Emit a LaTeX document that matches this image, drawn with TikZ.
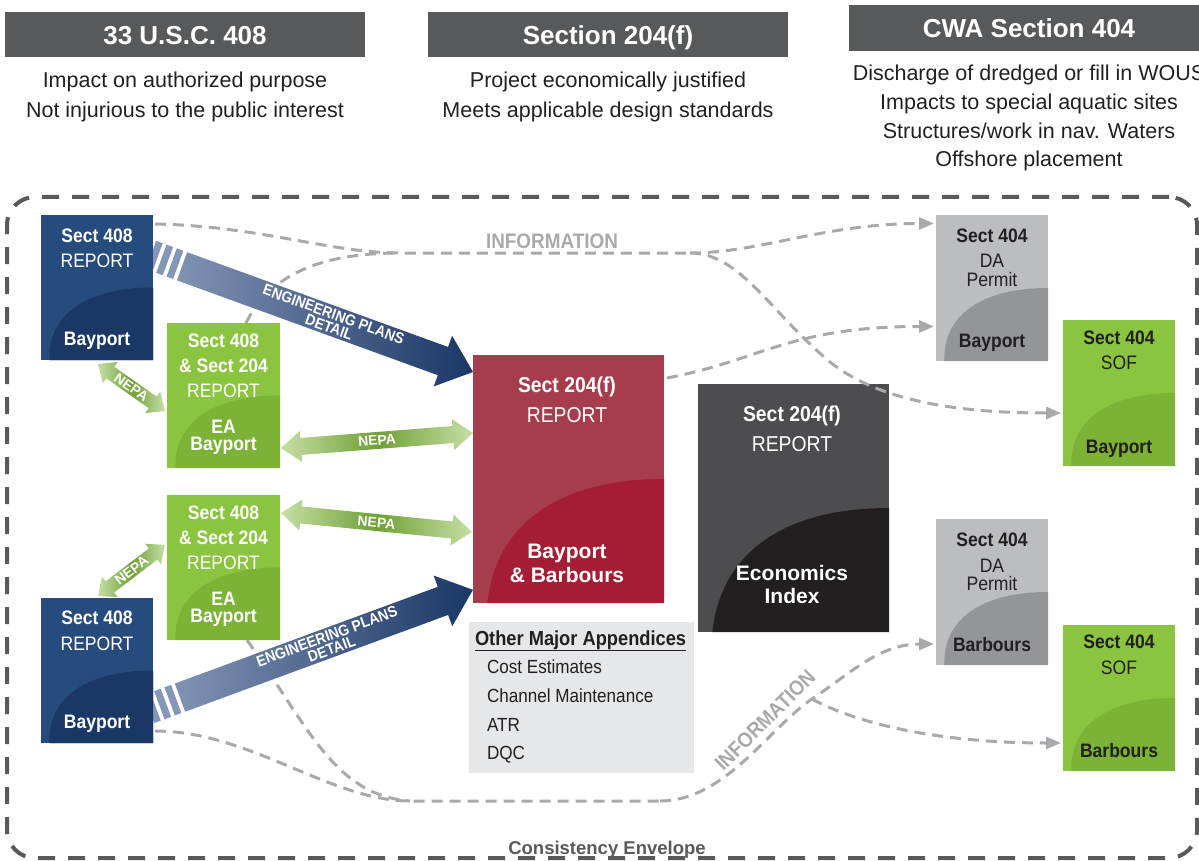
\documentclass[tikz,border=0pt]{standalone}
\usepackage{fontspec}
\setmainfont{Liberation Sans}
\newfontfamily\cond[FakeStretch=0.9]{Liberation Sans}
\usetikzlibrary{arrows.meta,calc}
\definecolor{hdr}{HTML}{58595B}
\definecolor{blueA}{HTML}{264B7D}
\definecolor{blueB}{HTML}{1B3765}
\definecolor{grnA}{HTML}{8BC43F}
\definecolor{grnB}{HTML}{7CB236}
\definecolor{redA}{HTML}{A53D4C}
\definecolor{redB}{HTML}{A41D35}
\definecolor{drkA}{HTML}{4D4D4F}
\definecolor{drkB}{HTML}{231F20}
\definecolor{gryA}{HTML}{BCBDC0}
\definecolor{gryB}{HTML}{939598}
\definecolor{appx}{HTML}{E6E7E8}
\definecolor{infoc}{HTML}{A7A9AC}
\definecolor{ink}{HTML}{231F20}
\definecolor{engS}{HTML}{8497B6}
\definecolor{engL}{HTML}{8093B3}
\definecolor{engD}{HTML}{1B3766}
\definecolor{nepL}{HTML}{C6DEA5}
\definecolor{nepD}{HTML}{6FA136}
\definecolor{envc}{HTML}{58595B}

% name, x0, y0, W, H, top colour, curve colour, c1x factor, c2x factor
\newcommand\repbox[9]{%
  \node[rbx, fill=#6, minimum width=#4, minimum height=#5, anchor=north west] (#1) at (#2,#3) {};
  \fill[#7] ({#2+0.075*#4},{#3+#5}) .. controls ({#2+#8*#4},{#3+0.68*#5}) and ({#2+#9*#4},{#3+0.5*#5}) .. ({#2+#4},{#3+0.5*#5}) -- ({#2+#4},{#3+#5}) -- cycle;
}
\newcommand\engarrow[4]{%
  \begin{scope}[shift={(#1)}, rotate=#2]
    \fill[engS] (0,-15) rectangle (7,15);
    \fill[engS] (11,-15) rectangle (18,15);
    \fill[engS] (22,-15) rectangle (29,15);
    \shade[left color=engL, right color=engD] (33,-15) -- ({#3-32},-15) -- ({#3-32},-27) -- (#3,0) -- ({#3-32},27) -- ({#3-32},15) -- (33,15) -- cycle;
    \node[engtxt, transform shape] (#4) at (192,0) {ENGINEERING PLANS\\DETAIL};
  \end{scope}}
\newcommand\nepa[7]{%
  \begin{scope}[shift={(#2)}, rotate=#3]
    \shade[left color=nepL, right color=nepL, middle color=nepD] (0,0) -- (#7,-#6) -- (#7,-#5) -- ({#4-#7},-#5) -- ({#4-#7},-#6) -- (#4,0) -- ({#4-#7},#6) -- ({#4-#7},#5) -- (#7,#5) -- (#7,#6) -- cycle;
    \node[nepatxt, transform shape] (#1) at ({#4/2},0) {NEPA};
  \end{scope}}

\begin{document}
\begin{tikzpicture}[x=1pt,y=-1pt,
  rbx/.style={rectangle, inner sep=0pt, outer sep=0pt, draw=none},
  lab/.style={inner sep=0pt, outer sep=0pt, anchor=base},
  sB/.style={lab, font=\cond\bfseries\fontsize{19.5}{22}\selectfont},
  sR/.style={lab, font=\cond\fontsize{19.5}{22}\selectfont},
  lB/.style={lab, font=\cond\bfseries\fontsize{21.5}{26}\selectfont},
  lR/.style={lab, font=\cond\fontsize{21.5}{26}\selectfont},
  xB/.style={lab, font=\bfseries\fontsize{21}{24}\selectfont},
  hdrbox/.style={rbx, fill=hdr, anchor=north west},
  htxt/.style={lab, text=white, font=\bfseries\fontsize{26}{30}\selectfont},
  stxt/.style={lab, text=ink, font=\fontsize{21.5}{25}\selectfont},
  infoline/.style={draw=infoc, line width=3pt, dash pattern=on 11pt off 7pt},
  arr/.style={-{Triangle[length=15pt,width=12pt]}},
  infolab/.style={text=infoc, font=\cond\bfseries\fontsize{21}{24}\selectfont, inner sep=0pt},
  engtxt/.style={text=white, align=center, font=\cond\bfseries\fontsize{15.5}{13.5}\selectfont, inner sep=0pt},
  nepatxt/.style={text=white, font=\bfseries\fontsize{14}{16}\selectfont, inner sep=0pt},
  apT/.style={lab, anchor=base west, text=ink, font=\cond\bfseries\fontsize{20.3}{22}\selectfont},
  apI/.style={lab, anchor=base west, text=ink, font=\cond\fontsize{19}{22}\selectfont}
]
\useasboundingbox (0,0) rectangle (1199,861);

% ---------- headers ----------
\node[hdrbox, minimum width=360, minimum height=45] (h1) at (5,12) {};
\node[hdrbox, minimum width=360, minimum height=45] (h2) at (428,12) {};
\node[hdrbox, minimum width=360, minimum height=46] (h3) at (849,5) {};
\node[htxt] (h1t) at (185,44.5) {33 U.S.C. 408};
\node[htxt] (h2t) at (608,44.5) {Section 204(f)};
\node[htxt] (h3t) at (1029,38) {CWA Section 404};
\node[stxt] (h1s1) at (185,88) {Impact on authorized purpose};
\node[stxt] (h1s2) at (185,117.5) {Not injurious to the public interest};
\node[stxt] (h2s1) at (608,88) {Project economically justified};
\node[stxt] (h2s2) at (608,117.5) {Meets applicable design standards};
\node[stxt] (h3s1) at (1029,81) {Discharge of dredged or fill in WOUS};
\node[stxt] (h3s2) at (1029,110) {Impacts to special aquatic sites};
\node[stxt] (h3s3) at (1029,138.5) {Structures/work in nav. Waters};
\node[stxt] (h3s4) at (1029,167) {Offshore placement};

% ---------- envelope ----------
\node[rbx, draw=envc, line width=4pt, dash pattern=on 17pt off 13pt, rounded corners=28pt,
      minimum width=1190, minimum height=661] (env) at (602,527.5) {};
\node[lab, text=envc, font=\bfseries\fontsize{18.5}{22}\selectfont] (envt) at (607,854) {Consistency Envelope};

% ---------- report boxes ----------
\repbox{b1}{41}{215}{112}{145}{blueA}{blueB}{0.06}{0.42}
\repbox{g1}{167}{323}{113}{145}{grnA}{grnB}{0.06}{0.42}
\repbox{g2}{167}{495}{113}{145}{grnA}{grnB}{0.06}{0.42}
\repbox{b2}{41}{598}{112}{145}{blueA}{blueB}{0.06}{0.42}
\repbox{rep}{473}{355}{191}{248}{redA}{redB}{0.12}{0.45}
\repbox{dk}{698}{384}{191}{248}{drkA}{drkB}{0.12}{0.45}
\repbox{gr1}{936}{215}{112}{146}{gryA}{gryB}{0.06}{0.42}
\repbox{s1}{1063}{320}{112}{146}{grnA}{grnB}{0.06}{0.42}
\repbox{gr2}{936}{519}{112}{146}{gryA}{gryB}{0.06}{0.42}
\repbox{s2}{1063}{625}{112}{146}{grnA}{grnB}{0.06}{0.42}
\node[rbx, fill=appx, minimum width=225, minimum height=151, anchor=north west] (apx) at (469,622) {};

% ---------- information connectors ----------
\coordinate (j1) at (400,253);
\coordinate (j2) at (690,253);
\coordinate (j6) at (830,362);
\coordinate (j3) at (410,801);
\coordinate (j5) at (660,801);
\coordinate (j4) at (812,699);
\draw[infoline] ($(b1.north east)+(2,9)$) .. controls +(105,2) and +(-70,0) .. (j1) -- (j2);
\draw[infoline] ($(g1.north)+(22.5,0)$) .. controls +(24,-48) and +(-80,0) .. (j1);
\draw[infoline, arr] (j2) .. controls +(70,0) and +(-110,0) .. ($(gr1.west)+(-2,-64.5)$);
\draw[infoline, arr] (j2) .. controls +(50,0) and +(-60,-50) .. (j6) .. controls +(50,40) and +(-100,0) .. ($(s1.west)+(-2,20)$);
\draw[infoline, arr] ($(rep.north east)+(3,23)$) .. controls +(95,-18) and +(-144,0) .. ($(gr1.west)+(-2,38.5)$);
\draw[infoline] ($(b2.south east)+(2,-12)$) .. controls +(95,0) and +(-80,0) .. (j3) -- (j5);
\draw[infoline] ($(g2.south)+(23.5,0)$) .. controls +(63,90) and +(-75,-6) .. (j3);
\draw[infoline, arr] (j5) .. controls +(65,0) and +(-42,28) .. (j4) .. controls +(40,-27) and +(-54,0) .. ($(gr2.west)+(-2,52)$);
\draw[infoline, arr] (j4) .. controls +(40,22) and +(-130,0) .. ($(s2.west)+(-2,45)$);
\node[infolab, anchor=base] (inf1) at (552,248) {INFORMATION};
\node[infolab, rotate=45] (inf2) at (765,720) {INFORMATION};

% ---------- engineering plan arrows ----------
\coordinate (e1s) at ($(b1.north east)+(-2,40)$);
\coordinate (e1t) at ($(rep.north west)+(0,17)$);
\coordinate (e2s) at ($(b2.north east)+(-4,111)$);
\coordinate (e2t) at ($(rep.south west)+(0,-13)$);
\engarrow{e1s}{-19.97}{342.6}{eng1}
\engarrow{e2s}{20.2}{345.2}{eng2}

% redraw left boxes over arrow starts
\repbox{b1}{41}{215}{112}{145}{blueA}{blueB}{0.06}{0.42}
\repbox{b2}{41}{598}{112}{145}{blueA}{blueB}{0.06}{0.42}

% ---------- box texts ----------
\node[sB, text=white] (b1a) at (97,242) {Sect 408};
\node[sR, text=white] (b1b) at (97,267) {REPORT};
\node[sB, text=white] (b1c) at (97,345.5) {Bayport};

\node[sB, text=white] (g1a) at (223.5,347) {Sect 408};
\node[sB, text=white] (g1b) at (223.5,372) {\& Sect 204};
\node[sR, text=white] (g1c) at (223.5,397) {REPORT};
\node[sB, text=white] (g1d) at (223.5,433) {EA};
\node[sB, text=white] (g1e) at (223.5,450) {Bayport};

\node[sB, text=white] (g2a) at (223.5,519) {Sect 408};
\node[sB, text=white] (g2b) at (223.5,544) {\& Sect 204};
\node[sR, text=white] (g2c) at (223.5,569) {REPORT};
\node[sB, text=white] (g2d) at (223.5,605) {EA};
\node[sB, text=white] (g2e) at (223.5,622) {Bayport};

\node[sB, text=white] (b2a) at (97,624) {Sect 408};
\node[sR, text=white] (b2b) at (97,650) {REPORT};
\node[sB, text=white] (b2c) at (97,728) {Bayport};

\node[lB, text=white] (r1) at (567,392) {Sect 204(f)};
\node[lR, text=white] (r2) at (567,422) {REPORT};
\node[xB, text=white] (r3) at (567,558) {Bayport};
\node[xB, text=white] (r4) at (567,582) {\& Barbours};

\node[lB, text=white] (d1) at (792,421) {Sect 204(f)};
\node[lR, text=white] (d2) at (792,451) {REPORT};
\node[xB, text=white] (d3) at (792,580) {Economics};
\node[xB, text=white] (d4) at (792,603) {Index};

\node[sB, text=ink] (q1a) at (992,242) {Sect 404};
\node[sR, text=ink] (q1b) at (992,267) {DA};
\node[sR, text=ink] (q1c) at (992,286) {Permit};
\node[sB, text=ink] (q1d) at (992,347) {Bayport};

\node[sB, text=ink] (s1a) at (1119,344) {Sect 404};
\node[sR, text=ink] (s1b) at (1119,369) {SOF};
\node[sB, text=ink] (s1c) at (1119,453) {Bayport};

\node[sB, text=ink] (q2a) at (992,546) {Sect 404};
\node[sR, text=ink] (q2b) at (992,572) {DA};
\node[sR, text=ink] (q2c) at (992,590) {Permit};
\node[sB, text=ink] (q2d) at (992,651) {Barbours};

\node[sB, text=ink] (s2a) at (1119,648) {Sect 404};
\node[sR, text=ink] (s2b) at (1119,674) {SOF};
\node[sB, text=ink] (s2c) at (1119,757) {Barbours};

\node[apT] (apt) at (475,645) {\underline{Other Major Appendices}};
\node[apI] (ap1) at (487,673) {Cost Estimates};
\node[apI] (ap2) at (487,702) {Channel Maintenance};
\node[apI] (ap3) at (487,731) {ATR};
\node[apI] (ap4) at (487,759) {DQC};

% ---------- NEPA arrows ----------
\coordinate (n1s) at ($(b1.south)+(1,4)$);
\coordinate (n4s) at ($(b2.north)+(1,-2)$);
\coordinate (n2s) at ($(g1.east)+(1,52.5)$);
\coordinate (n3s) at ($(g2.east)+(1,-54.5)$);
\nepa{nepa1}{n1s}{-35.05}{81.8}{7}{13}{15}
\nepa{nepa4}{n4s}{37.3}{84.2}{7}{13}{15}
\nepa{nepa2}{n2s}{4.47}{192.6}{8.5}{15.5}{20}
\nepa{nepa3}{n3s}{-5.68}{191.9}{8.5}{15.5}{20}

\end{tikzpicture}
\end{document}
